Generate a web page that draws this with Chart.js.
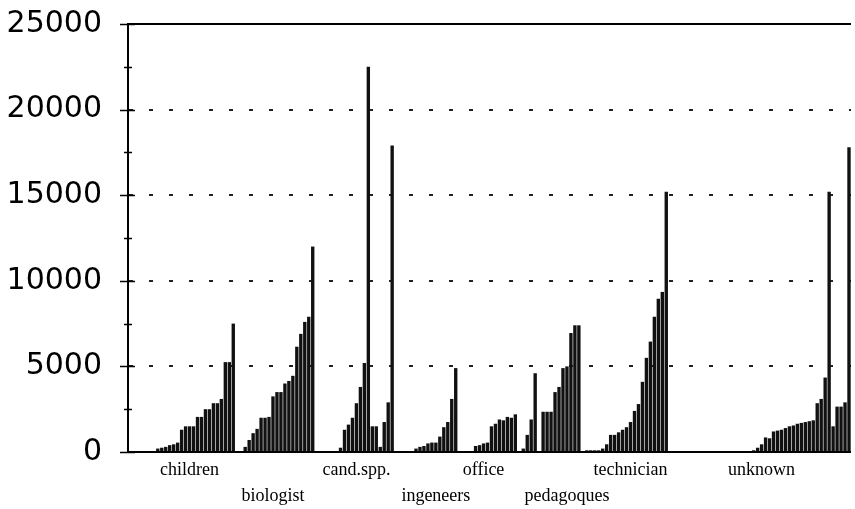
<!DOCTYPE html>
<html>
<head>
<meta charset="utf-8">
<script src="https://cdn.jsdelivr.net/npm/chart.js@4/dist/chart.umd.min.js"></script>
<style>
  html, body { margin: 0; padding: 0; background: #fff; }
  #wrap { width: 855px; height: 509px; }
</style>
</head>
<body>
<div id="wrap"><canvas id="usageChart"></canvas></div>
<script>
// one value per bar slot; leading zeros are the gap before each group
const children = [0, 0, 0, 0, 0, 0, 0, 200, 250, 300, 400, 450, 550, 1300, 1500, 1500, 1500, 2050, 2050, 2500, 2500, 2850, 2850, 3100, 5250, 5250, 7500];
const biologist = [0, 0, 300, 700, 1100, 1350, 2000, 2000, 2050, 3250, 3500, 3500, 4000, 4150, 4450, 6150, 6900, 7600, 7900, 12000];
const candSpp = [0, 0, 0, 0, 0, 0, 250, 1300, 1600, 2000, 2850, 3800, 5200, 22500, 1500, 1500, 300, 1750, 2900, 17900];
const ingeneers = [0, 0, 0, 0, 0, 200, 300, 350, 500, 550, 550, 900, 1450, 1750, 3100, 4900];
const office = [0, 0, 0, 0, 350, 400, 500, 550, 1500, 1650, 1900, 1850, 2050, 2000, 2200];
const pedagoques = [0, 200, 1000, 1900, 4600, 0, 2350, 2350, 2350, 3500, 3800, 4900, 5000, 6950, 7400, 7400];
const technician = [0, 100, 100, 100, 100, 200, 450, 1000, 1000, 1150, 1300, 1450, 1750, 2400, 2800, 4100, 5500, 6450, 7900, 8950, 9350, 15200];
const unknown = [0, 0, 0, 0, 0, 0, 0, 0, 0, 0, 0, 0, 0, 0, 0, 0, 0, 0, 0, 0, 0,
  100, 250, 450, 850, 800, 1200, 1250, 1300, 1400, 1500, 1550, 1650, 1700, 1750, 1800, 1850, 2850, 3100, 4350, 15200, 1500, 2650, 2650, 2900, 17800];

const groupNames = ["children", "biologist", "cand.spp.", "ingeneers", "office", "pedagoques", "technician", "unknown"];
const groupValues = [children, biologist, candSpp, ingeneers, office, pedagoques, technician, unknown];
// bar under which each name is written, and whether it goes on the lower row
const nameAt = [15, 9, 10, 10, 6, 12, 12, 23];
const lowerRow = [false, true, false, true, false, true, false, false];
const yTicks = [0, 5000, 10000, 15000, 20000, 25000];

const values = [];
const labels = [];
groupValues.forEach((vals, g) => {
  vals.forEach((v, k) => {
    values.push(v);
    if (k === nameAt[g]) labels.push(lowerRow[g] ? ["", groupNames[g]] : groupNames[g]);
    else labels.push("");
  });
});

// top frame line plus the tick marks that cross the y axis
const frame = {
  id: "frame",
  afterDraw(chart) {
    const { ctx, chartArea, scales } = chart;
    const y = scales.y;
    ctx.save();
    ctx.strokeStyle = "#000";
    ctx.lineWidth = 2;
    ctx.beginPath();
    ctx.moveTo(chartArea.left - 1, chartArea.top);
    ctx.lineTo(chartArea.right, chartArea.top);
    ctx.stroke();
    ctx.lineWidth = 1.5;
    ctx.beginPath();
    for (let v = 0; v <= 25000; v += 2500) {
      const py = Math.round(y.getPixelForValue(v)) + 0.5;
      const major = v % 5000 === 0;
      ctx.moveTo(chartArea.left - (major ? 8 : 4), py);
      ctx.lineTo(chartArea.left + (major ? 7 : 4), py);
    }
    ctx.stroke();
    ctx.restore();
  }
};

const ctx = document.getElementById("usageChart").getContext("2d");
new Chart(ctx, {
  type: "bar",
  data: {
    labels: labels,
    datasets: [{
      data: values,
      backgroundColor: "#111",
      borderWidth: 0,
      barPercentage: 0.85,
      categoryPercentage: 1.0
    }]
  },
  options: {
    responsive: true,
    maintainAspectRatio: false,
    animation: false,
    layout: { padding: { top: 24, left: 0, right: 0, bottom: 0 } },
    plugins: { legend: { display: false }, tooltip: { enabled: false } },
    scales: {
      x: {
        ticks: {
          autoSkip: false,
          maxRotation: 0,
          minRotation: 0,
          padding: 6,
          color: "#000",
          font: { family: "Liberation Serif", size: 18, lineHeight: 1.4 }
        },
        grid: { display: false, drawTicks: false },
        border: { display: true, color: "#000", width: 2 },
        afterFit: (scale) => { scale.height = 57; }
      },
      y: {
        min: 0,
        max: 25000,
        afterBuildTicks: (scale) => { scale.ticks = yTicks.map(v => ({ value: v })); },
        ticks: {
          color: "#000",
          padding: 26,
          font: { family: "DejaVu Sans", size: 30 },
          callback: (v) => String(v)
        },
        grid: {
          drawTicks: false,
          lineWidth: 2,
          color: (c) => (c.tick && c.tick.value > 0 && c.tick.value < 25000) ? "#222" : "rgba(0,0,0,0)"
        },
        border: { display: true, color: "#000", width: 2, dash: [4, 16] },
        afterFit: (scale) => {
          scale.width = 128;
          scale.paddingTop = 0;
          scale.paddingBottom = 0;
        }
      }
    }
  },
  plugins: [frame]
});
</script>
</body>
</html>
